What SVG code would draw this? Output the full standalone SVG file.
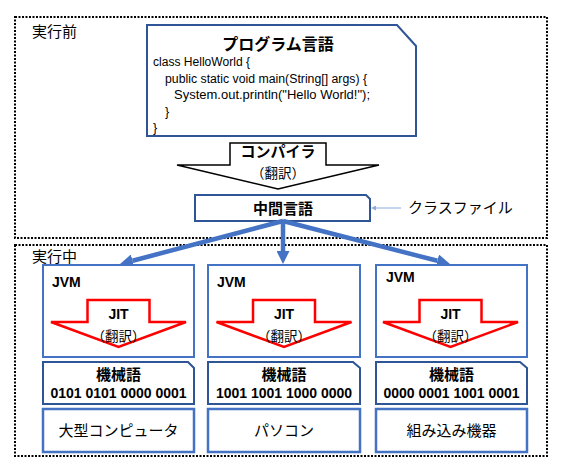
<svg xmlns="http://www.w3.org/2000/svg" width="565" height="476" viewBox="0 0 565 476">
<style>
.jp{font-family:"Noto Sans CJK JP","Noto Sans",sans-serif;fill:#000}
.lat{font-family:"Liberation Sans","Noto Sans",sans-serif;fill:#000}
.code{font-family:"Liberation Sans","Noto Sans",sans-serif;font-size:12.5px;fill:#000}
.b{font-weight:bold}
.dot{fill:none;stroke:#000;stroke-width:2;stroke-dasharray:2 1.5}
.dk{fill:#fff;stroke:#2F5597;stroke-width:2}
.jvm{fill:#fff;stroke:#4472C4;stroke-width:2}
.dev{fill:#fff;stroke:#4472C4;stroke-width:2.5}
.red{fill:#fff;stroke:#FF0000;stroke-width:2.5;stroke-linejoin:miter}
.conn{stroke:#4472C4;stroke-width:4.5;fill:none}
</style>
<defs>
<marker id="ah" viewBox="0 0 10 10" refX="0" refY="5" markerUnits="userSpaceOnUse" markerWidth="13" markerHeight="13" orient="auto">
<path d="M0,0 L10,5 L0,10 z" fill="#4472C4"/>
</marker>
<marker id="ahs" viewBox="0 0 10 10" refX="0" refY="5" markerUnits="userSpaceOnUse" markerWidth="5" markerHeight="5" orient="auto">
<path d="M0,0 L10,5 L0,10 z" fill="#8FAADC"/>
</marker>
</defs>
<rect width="565" height="476" fill="#fff"/>

<g id="before">
<rect class="dot" x="15" y="17" width="532" height="221"/>
<text class="jp" x="32" y="37" font-size="15">実行前</text>
</g>
<g id="during">
<rect class="dot" x="15" y="245" width="532" height="211"/>
<text class="jp" x="32" y="262" font-size="15">実行中</text>
</g>

<g id="program">
<path class="dk" d="M147,25 L397,25 L416,46 L416,136 L147,136 Z"/>
<text class="jp b" x="278" y="50" font-size="16" text-anchor="middle">プログラム言語</text>
<text class="code" x="153" y="66" textLength="97" lengthAdjust="spacingAndGlyphs">class HelloWorld {</text>
<text class="code" x="165" y="83" textLength="202" lengthAdjust="spacingAndGlyphs">public static void main(String[] args) {</text>
<text class="code" x="174" y="99" textLength="196" lengthAdjust="spacingAndGlyphs">System.out.println("Hello  World!");</text>
<text class="code" x="165" y="116">}</text>
<text class="code" x="153" y="132">}</text>
</g>

<g id="compiler">
<polygon points="230,143 326,143 326,165 379,165 278,189 177,165 230,165" fill="#fff" stroke="#000" stroke-width="1.5"/>
<text class="jp b" x="278" y="157" font-size="15" text-anchor="middle">コンパイラ</text>
<text class="jp" x="278" y="178" font-size="13.5" text-anchor="middle">（翻訳）</text>
</g>

<g id="bytecode">
<path class="dk" d="M195,195 L366,195 L370,199 L370,221 L195,221 Z"/>
<text class="jp b" x="283" y="214" font-size="15" text-anchor="middle">中間言語</text>
</g>

<g id="classfile">
<text class="jp" x="408" y="213" font-size="15">クラスファイル</text>
</g>

<g id="connectors">
<line class="conn" x1="283" y1="221" x2="132.6" y2="260.7" marker-end="url(#ah)"/>
<line class="conn" x1="283" y1="221" x2="283" y2="251" marker-end="url(#ah)"/>
<line class="conn" x1="283" y1="221" x2="437.4" y2="260.8" marker-end="url(#ah)"/>
<line x1="401" y1="208" x2="376" y2="208" stroke="#8FAADC" stroke-width="1" marker-end="url(#ahs)"/>
</g>

<g id="jvm1">
<rect class="jvm" x="43" y="265" width="151" height="92"/>
<text class="lat b" x="52" y="287" font-size="14">JVM</text>
<polygon class="red" points="87.5,300 149.5,300 149.5,322 186,322 118.5,347 51,322 87.5,322"/>
<text class="lat b" x="118.5" y="319" font-size="14" text-anchor="middle">JIT</text>
<text class="jp" x="118.5" y="341" font-size="13.5" text-anchor="middle">（翻訳）</text>
</g>
<g id="jvm2">
<rect class="jvm" x="208" y="265" width="152" height="92"/>
<text class="lat b" x="217" y="287" font-size="14">JVM</text>
<polygon class="red" points="253,300 315,300 315,322 351.5,322 284,347 216.5,322 253,322"/>
<text class="lat b" x="284" y="319" font-size="14" text-anchor="middle">JIT</text>
<text class="jp" x="284" y="341" font-size="13.5" text-anchor="middle">（翻訳）</text>
</g>
<g id="jvm3">
<rect class="jvm" x="376" y="265" width="151" height="92"/>
<text class="lat b" x="386" y="282" font-size="14">JVM</text>
<polygon class="red" points="419.5,300 481.5,300 481.5,322 518,322 450.5,347 383,322 419.5,322"/>
<text class="lat b" x="450.5" y="319" font-size="14" text-anchor="middle">JIT</text>
<text class="jp" x="450.5" y="341" font-size="13.5" text-anchor="middle">（翻訳）</text>
</g>

<g id="mc1">
<path class="dk" d="M43,362 L188,362 L194,368 L194,404 L43,404 Z"/>
<text class="jp b" x="118.5" y="380" font-size="15" text-anchor="middle">機械語</text>
<text class="lat b" x="118.5" y="398" font-size="14" text-anchor="middle">0101 0101 0000 0001</text>
</g>
<g id="mc2">
<path class="dk" d="M208,362 L353,362 L360,368 L360,404 L208,404 Z"/>
<text class="jp b" x="284" y="380" font-size="15" text-anchor="middle">機械語</text>
<text class="lat b" x="284" y="398" font-size="14" text-anchor="middle">1001 1001 1000 0000</text>
</g>
<g id="mc3">
<path class="dk" d="M376,362 L520,362 L527,368 L527,404 L376,404 Z"/>
<text class="jp b" x="451.5" y="380" font-size="15" text-anchor="middle">機械語</text>
<text class="lat b" x="451.5" y="398" font-size="14" text-anchor="middle">0000 0001 1001 0001</text>
</g>

<g id="dev1">
<rect class="dev" x="43" y="409" width="151" height="43"/>
<text class="jp" x="118.5" y="436" font-size="15" text-anchor="middle">大型コンピュータ</text>
</g>
<g id="dev2">
<rect class="dev" x="208" y="409" width="152" height="43"/>
<text class="jp" x="284" y="436" font-size="15" text-anchor="middle">パソコン</text>
</g>
<g id="dev3">
<rect class="dev" x="376" y="409" width="151" height="43"/>
<text class="jp" x="451.5" y="436" font-size="15" text-anchor="middle">組み込み機器</text>
</g>
</svg>
